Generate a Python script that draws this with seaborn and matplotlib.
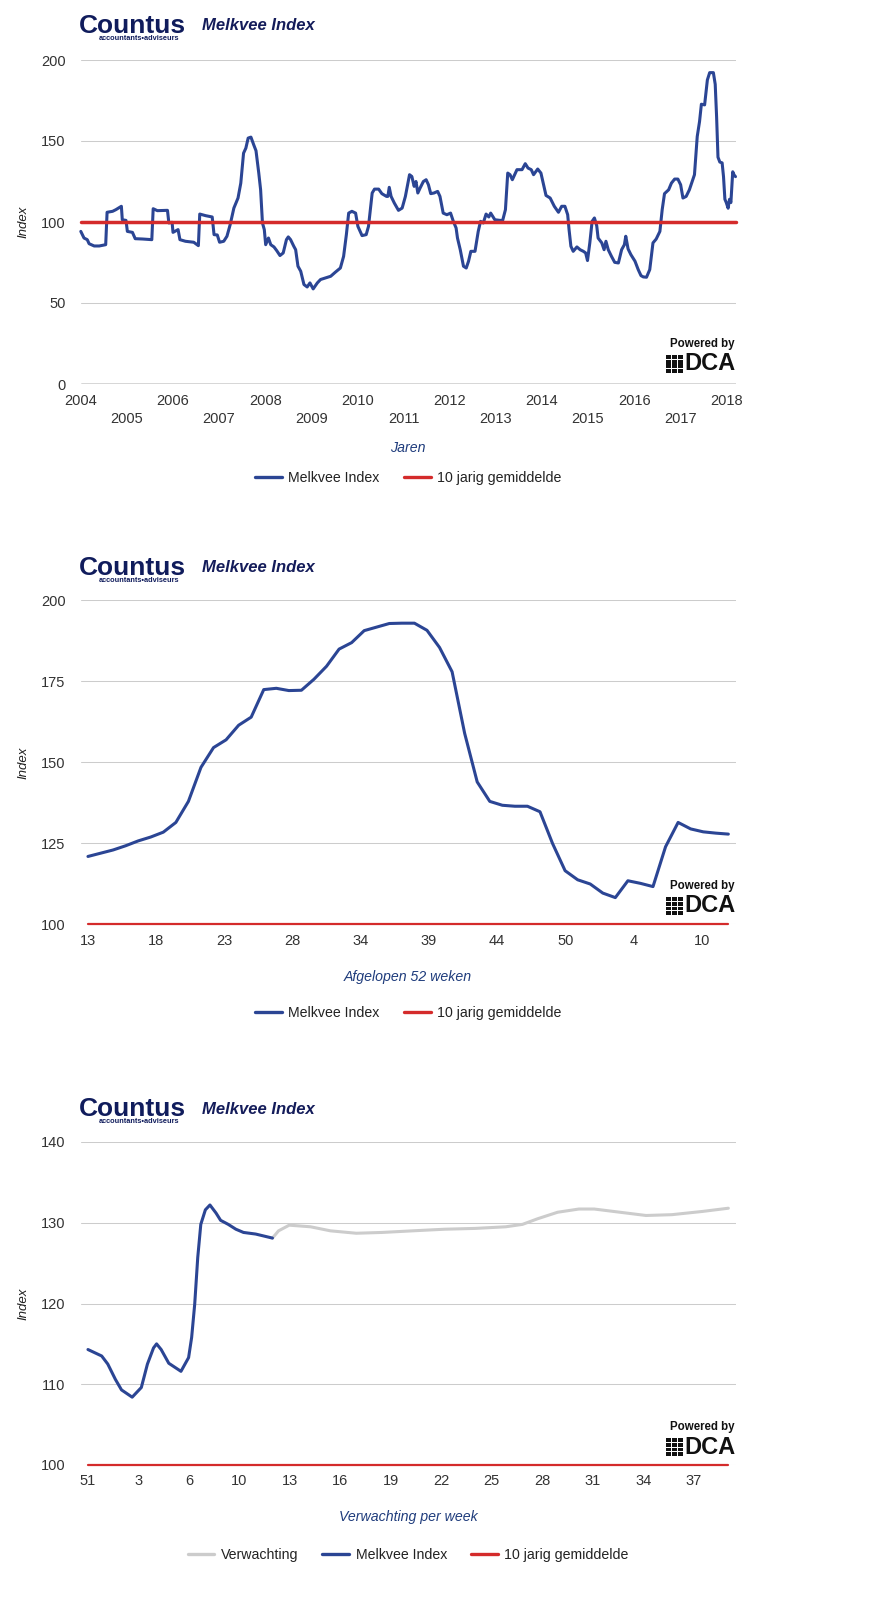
import numpy as np
import pandas as pd
import matplotlib
matplotlib.use("Agg")
import matplotlib.pyplot as plt
from matplotlib.patches import Rectangle
import seaborn as sns

# ---------------- data ----------------
p1_year = [2004.00, 2004.07, 2004.14, 2004.18, 2004.29, 2004.40, 2004.54, 2004.57, 2004.69, 2004.76,
           2004.88, 2004.90, 2004.98, 2005.01, 2005.12, 2005.18, 2005.34, 2005.54, 2005.57, 2005.66,
           2005.88, 2005.91, 2005.98, 2006.00, 2006.11, 2006.15, 2006.27, 2006.45, 2006.55, 2006.58,
           2006.71, 2006.85, 2006.89, 2006.96, 2007.01, 2007.10, 2007.17, 2007.24, 2007.32, 2007.41,
           2007.47, 2007.53, 2007.58, 2007.63, 2007.69, 2007.75, 2007.80, 2007.86, 2007.90, 2007.94,
           2007.98, 2008.01, 2008.07, 2008.12, 2008.19, 2008.25, 2008.32, 2008.39, 2008.46, 2008.50,
           2008.55, 2008.62, 2008.66, 2008.71, 2008.77, 2008.84, 2008.91, 2008.97, 2009.04, 2009.13,
           2009.20, 2009.31, 2009.42, 2009.52, 2009.63, 2009.70, 2009.76, 2009.81, 2009.88, 2009.96,
           2010.01, 2010.10, 2010.19, 2010.24, 2010.32, 2010.37, 2010.46, 2010.53, 2010.63, 2010.66,
           2010.69, 2010.73, 2010.80, 2010.89, 2010.97, 2011.04, 2011.13, 2011.18, 2011.23, 2011.27,
           2011.31, 2011.36, 2011.43, 2011.49, 2011.54, 2011.59, 2011.66, 2011.74, 2011.79, 2011.86,
           2011.94, 2012.02, 2012.08, 2012.14, 2012.17, 2012.23, 2012.30, 2012.36, 2012.41, 2012.46,
           2012.55, 2012.62, 2012.67, 2012.73, 2012.79, 2012.85, 2012.89, 2012.98, 2013.09, 2013.15,
           2013.21, 2013.26, 2013.31, 2013.36, 2013.46, 2013.57, 2013.64, 2013.70, 2013.77, 2013.82,
           2013.91, 2013.98, 2014.03, 2014.09, 2014.18, 2014.27, 2014.36, 2014.43, 2014.50, 2014.56,
           2014.59, 2014.63, 2014.68, 2014.76, 2014.83, 2014.90, 2014.95, 2014.99, 2015.04, 2015.09,
           2015.14, 2015.19, 2015.22, 2015.30, 2015.35, 2015.39, 2015.44, 2015.51, 2015.58, 2015.66,
           2015.73, 2015.79, 2015.82, 2015.87, 2015.93, 2016.02, 2016.09, 2016.15, 2016.20, 2016.27,
           2016.34, 2016.41, 2016.48, 2016.56, 2016.61, 2016.66, 2016.75, 2016.81, 2016.88, 2016.95,
           2017.01, 2017.06, 2017.13, 2017.20, 2017.31, 2017.37, 2017.42, 2017.46, 2017.53, 2017.59,
           2017.64, 2017.72, 2017.76, 2017.79, 2017.82, 2017.86, 2017.91, 2017.94, 2017.97, 2018.00,
           2018.04, 2018.07, 2018.10, 2018.14, 2018.17, 2018.20]
p1_index = [94.2, 90.1, 89.1, 86.6, 85.2, 85.2, 86.0, 106.0, 106.6, 107.6,
            109.7, 101.4, 101.0, 94.2, 93.6, 89.7, 89.5, 89.1, 108.2, 107.0,
            107.2, 99.4, 99.8, 93.6, 95.3, 89.1, 88.1, 87.5, 85.4, 104.9,
            103.9, 103.1, 92.2, 92.0, 87.5, 88.1, 91.2, 98.4, 108.6, 114.8,
            124.0, 142.5, 145.6, 151.8, 152.4, 147.7, 144.0, 130.2, 119.9, 99.4,
            95.3, 86.0, 90.1, 86.0, 84.6, 82.3, 79.3, 80.9, 89.1, 90.8,
            89.1, 85.0, 82.9, 72.7, 69.6, 61.4, 59.9, 62.4, 58.7, 62.4,
            64.5, 65.5, 66.5, 69.0, 71.6, 78.8, 92.2, 105.5, 106.6, 105.5,
            97.3, 91.6, 92.2, 97.3, 117.9, 120.3, 120.3, 117.5, 115.8, 115.8,
            121.4, 115.8, 111.7, 107.2, 108.6, 115.8, 129.2, 128.1, 122.0, 125.0,
            117.9, 121.0, 125.0, 126.1, 123.0, 117.5, 117.9, 118.9, 115.8, 105.5,
            104.5, 105.5, 100.4, 96.3, 90.1, 82.9, 72.7, 71.6, 75.8, 81.9,
            81.9, 94.2, 100.4, 99.4, 104.9, 103.1, 105.5, 101.4, 101.0, 101.0,
            107.6, 130.2, 129.2, 126.1, 132.3, 132.3, 136.0, 133.3, 132.3, 129.2,
            132.7, 130.2, 124.0, 116.4, 114.8, 109.7, 106.0, 109.7, 109.7, 104.5,
            95.3, 85.0, 81.9, 84.6, 82.9, 81.9, 80.9, 76.2, 87.1, 100.4,
            102.5, 97.7, 90.1, 87.1, 82.9, 88.1, 82.9, 78.8, 75.1, 74.7,
            82.9, 86.0, 91.2, 83.4, 79.9, 75.8, 70.6, 66.9, 66.1, 65.9,
            70.6, 87.1, 89.5, 94.2, 107.6, 117.5, 119.9, 124.0, 126.5, 126.5,
            123.0, 114.8, 115.8, 119.9, 129.2, 152.8, 162.0, 172.7, 172.3, 187.7,
            192.2, 192.2, 185.0, 165.0, 140.0, 137.0, 136.5, 128.0, 114.0, 112.0,
            108.5, 114.0, 112.0, 131.0, 129.0, 128.0]
p1_years_ticks = list(range(2004, 2019))

# last 52 weeks (weekly values)
p2_index = [121.0, 122.0, 123.0, 124.3, 125.8, 127.0, 128.5, 131.5, 138.0, 148.5,
            154.6, 157.0, 161.5, 164.0, 172.5, 172.9, 172.2, 172.3, 175.7, 179.7,
            185.0, 187.0, 190.7, 191.8, 192.9, 193.0, 193.0, 190.8, 185.5, 178.0,
            159.0, 144.0, 138.0, 136.8, 136.5, 136.5, 134.8, 125.0, 116.6, 113.8,
            112.5, 109.7, 108.3, 113.5, 112.7, 111.7, 124.0, 131.5, 129.5, 128.6,
            128.2, 127.9]
p2_week_labels = ["13", "18", "23", "28", "34", "39", "44", "50", "4", "10"]

# forecast panel (x in weeks from week 51)
p3_act_t = [0.0, 0.9, 1.3, 1.8, 2.2, 2.9, 3.5, 3.9, 4.3, 4.5, 4.8, 5.3, 5.7, 6.1, 6.6,
            6.8, 7.0, 7.2, 7.4, 7.7, 8.0, 8.4, 8.7, 9.2, 9.7, 10.2, 11.0, 12.1]
p3_act_val = [114.3, 113.5, 112.5, 110.6, 109.3, 108.4, 109.6, 112.5, 114.5, 115.0, 114.3,
              112.6, 112.1, 111.6, 113.3, 115.8, 119.9, 125.7, 129.8, 131.6, 132.2, 131.2,
              130.3, 129.8, 129.2, 128.8, 128.6, 128.1]
p3_fc_t = [12.1, 12.5, 13.2, 14.6, 15.9, 17.6, 19.3, 21.3, 23.4, 25.4, 27.4, 28.5, 29.5,
           30.8, 32.2, 33.2, 34.9, 36.6, 38.3, 40.3, 42.0]
p3_fc_val = [128.1, 129.0, 129.7, 129.5, 129.0, 128.7, 128.8, 129.0, 129.2, 129.3, 129.5,
             129.8, 130.5, 131.3, 131.7, 131.7, 131.3, 130.9, 131.0, 131.4, 131.8]
p3_week_labels = ["51", "3", "6", "10", "13", "16", "19", "22", "25", "28", "31", "34", "37"]

avg_value = 100

# ---------------- style ----------------
W, H = 874, 1620
sns.set_theme(style="white")
plt.rcParams['font.family'] = ['Liberation Sans', 'DejaVu Sans']
BLUE = "#2b4594"
RED = "#d42b2b"
GRAY = "#cccccc"
NAVY = "#1f3c7c"
GRID = "#cccccc"
TICK = "#333333"
TICK_FS = 10.5
LEFT, RIGHT = 80.8, 735.5

fig = plt.figure(figsize=(W / 100, H / 100), dpi=100)
fig.patch.set_facecolor("white")


def fx(x):
    return x / W


def fy(y):
    return 1 - y / H


def make_ax(top, bottom):
    return fig.add_axes([fx(LEFT), fy(bottom), (RIGHT - LEFT) / W, (bottom - top) / H])


def header(y_title):
    fig.text(fx(79), fy(y_title), "Countus", fontsize=19, fontweight="bold",
             color="#101c5c", va="center", ha="left",
             family=["Liberation Sans Narrow", "Liberation Sans", "DejaVu Sans"])
    fig.text(fx(179), fy(y_title + 12.5), "accountants\u2022adviseurs", fontsize=5.3,
             color="#101c5c", va="center", ha="right", fontweight="bold")
    fig.text(fx(202), fy(y_title), "Melkvee Index", fontsize=12, fontweight="bold",
             fontstyle="italic", color="#141c5a", va="center", ha="left")


def powered(y_pb):
    fig.text(fx(734), fy(y_pb), "Powered by", fontsize=8.3, fontweight="bold",
             color="#111111", ha="right", va="center")
    fig.text(fx(735), fy(y_pb + 20), "DCA", fontsize=17, fontweight="bold",
             color="#111111", ha="right", va="center")
    x0, y0 = 666, y_pb + 10
    for c in range(3):
        for r in range(4):
            fig.patches.append(Rectangle((fx(x0 + c * 6.2), fy(y0 + (r + 1) * 4.8)),
                                         5.0 / W, 3.9 / H, transform=fig.transFigure,
                                         color="#111111", lw=0))


def style_ax(ax, yticks):
    ax.set_facecolor("white")
    for s in ax.spines.values():
        s.set_visible(False)
    ax.set_yticks(yticks)
    ax.set_yticklabels([str(v) for v in yticks])
    ax.yaxis.grid(True, color=GRID, linewidth=0.75)
    ax.xaxis.grid(False)
    ax.set_axisbelow(True)
    ax.tick_params(axis="both", length=0, labelsize=TICK_FS, labelcolor=TICK)
    ax.tick_params(axis="y", pad=11)
    ax.set_ylabel("Index", fontsize=9.5, fontstyle="italic", color="#222222")
    ax.yaxis.set_label_coords((29 - LEFT) / (RIGHT - LEFT), 0.5)
    for ln in ax.get_lines():
        ln.set_clip_on(False)


def legend(ax, y, ncol):
    leg = fig.legend(*ax.get_legend_handles_labels(), loc="center",
                     bbox_to_anchor=(fx((LEFT + RIGHT) / 2), fy(y)), ncol=ncol, frameon=False,
                     fontsize=10.2, handlelength=1.9, handletextpad=0.45,
                     columnspacing=1.7)
    for t in leg.get_texts():
        t.set_color("#222222")
    for h in leg.legend_handles:
        h.set_linewidth(2.4)
    if ax.get_legend():
        ax.get_legend().remove()


# ---------------- panel 1 ----------------
df1 = pd.DataFrame({"jaar": p1_year, "index": p1_index})
df1["gem"] = avg_value
ax1 = make_ax(60, 384)
sns.lineplot(data=df1, x="jaar", y="index", ax=ax1, color=BLUE, linewidth=2.2,
             label="Melkvee Index")
sns.lineplot(data=df1, x="jaar", y="gem", ax=ax1, color=RED, linewidth=2.5,
             label="10 jarig gemiddelde")
ax1.set_xlim(p1_year[0], p1_year[-1])
ax1.set_ylim(0, 200)
style_ax(ax1, [0, 50, 100, 150, 200])
ax1.yaxis.grid(False)
for v in [50, 100, 150, 200]:
    ax1.axhline(v, color=GRID, linewidth=0.75, zorder=0)
ax1.axhline(0, color="#333333", linewidth=1.0, zorder=1)
ax1.set_xticks(p1_years_ticks)
ax1.set_xticklabels([str(y) if (y % 2 == 0) else "\n" + str(y) for y in p1_years_ticks])
for lbl in ax1.get_xticklabels():
    lbl.set_linespacing(1.4)
ax1.tick_params(axis="x", pad=7)
ax1.set_xlabel("Jaren", fontsize=10.2, fontstyle="italic", color=NAVY)
ax1.xaxis.set_label_coords(0.5, -(441 - 384) / 324)
header(26)
powered(344)
legend(ax1, 478, 2)

# ---------------- panel 2 ----------------
wk = np.arange(len(p2_index))
df2 = pd.DataFrame({"week": wk, "index": p2_index})
df2["gem"] = avg_value
ax2 = make_ax(600.5, 924.5)
sns.lineplot(data=df2, x="week", y="index", ax=ax2, color=BLUE, linewidth=2.2,
             label="Melkvee Index")
sns.lineplot(data=df2, x="week", y="gem", ax=ax2, color=RED, linewidth=1.6,
             label="10 jarig gemiddelde")
ax2.set_xlim(-0.57, len(p2_index) - 1 + 0.57)
ax2.set_ylim(100, 200)
style_ax(ax2, [100, 125, 150, 175, 200])
ax2.set_xticks(np.arange(len(p2_week_labels)) * 5.43)
ax2.set_xticklabels(p2_week_labels)
ax2.tick_params(axis="x", pad=7)
ax2.set_xlabel("Afgelopen 52 weken", fontsize=10.2, fontstyle="italic", color=NAVY)
ax2.xaxis.set_label_coords(0.5, -(970 - 924.5) / 324)
header(568)
powered(886)
legend(ax2, 1013, 2)

# ---------------- panel 3 ----------------
df3a = pd.DataFrame({"t": p3_act_t, "index": p3_act_val})
df3f = pd.DataFrame({"t": p3_fc_t, "index": p3_fc_val})
df3g = pd.DataFrame({"t": [p3_act_t[0], p3_fc_t[-1]], "gem": [avg_value, avg_value]})
ax3 = make_ax(1142, 1465)
sns.lineplot(data=df3f, x="t", y="index", ax=ax3, color=GRAY, linewidth=2.2,
             label="Verwachting")
sns.lineplot(data=df3a, x="t", y="index", ax=ax3, color=BLUE, linewidth=2.2,
             label="Melkvee Index")
sns.lineplot(data=df3g, x="t", y="gem", ax=ax3, color=RED, linewidth=1.6,
             label="10 jarig gemiddelde")
ax3.set_xlim(-0.47, p3_fc_t[-1] + 0.47)
ax3.set_ylim(100, 140)
style_ax(ax3, [100, 110, 120, 130, 140])
ax3.set_xticks(np.arange(len(p3_week_labels)) * 3.31)
ax3.set_xticklabels(p3_week_labels)
ax3.tick_params(axis="x", pad=6.5)
ax3.set_xlabel("Verwachting per week", fontsize=10.2, fontstyle="italic", color=NAVY)
ax3.xaxis.set_label_coords(0.5, -(1510 - 1465) / 323)
header(1109)
powered(1427)
legend(ax3, 1555, 3)

fig.savefig("out.png", dpi=100, facecolor="white")
